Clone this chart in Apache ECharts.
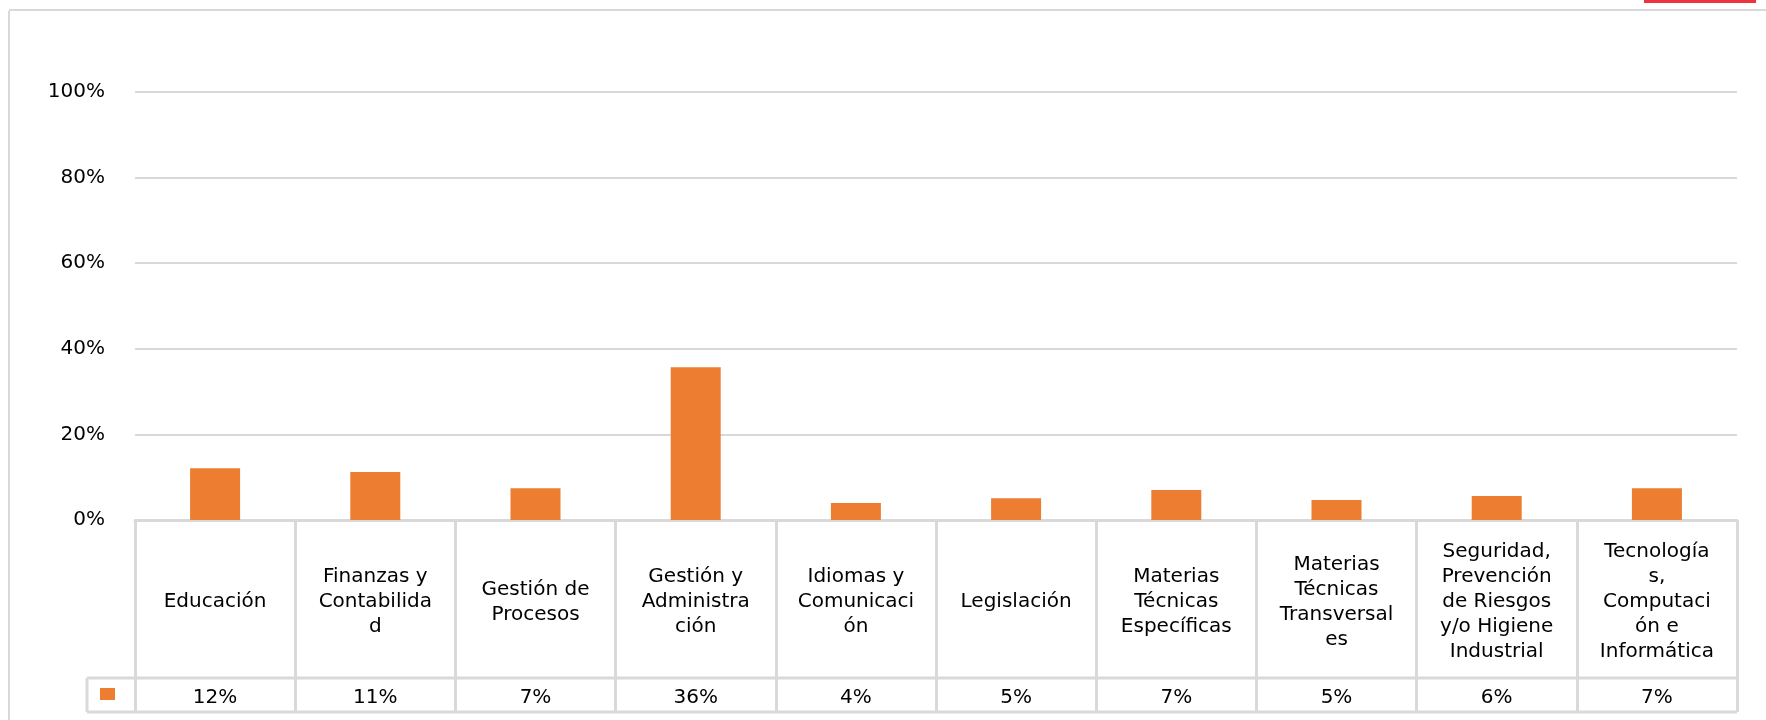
<!DOCTYPE html>
<html>
<head>
<meta charset="utf-8">
<script src="https://cdn.jsdelivr.net/npm/echarts@6/dist/echarts.min.js"></script>
<style>
  html, body { margin: 0; padding: 0; background: #fff; }
  #chart { width: 1766px; height: 720px; }
</style>
</head>
<body>
<div id="chart"></div>
<script>
// Categories (line breaks as they appear in the data table cells)
var categories = [
  'Educación',
  'Finanzas y\nContabilida\nd',
  'Gestión de\nProcesos',
  'Gestión y\nAdministra\nción',
  'Idiomas y\nComunicaci\nón',
  'Legislación',
  'Materias\nTécnicas\nEspecíficas',
  'Materias\nTécnicas\nTransversal\nes',
  'Seguridad,\nPrevención\nde Riesgos\ny/o Higiene\nIndustrial',
  'Tecnología\ns,\nComputaci\nón e\nInformática'
];
// Percent values
var values = [12.1, 11.2, 7.4, 35.7, 4.0, 5.1, 7.0, 4.7, 5.6, 7.4];
// Y-axis ticks
var yTicks = [0, 20, 40, 60, 80, 100];

var tableLabels = values.map(function (v) { return Math.round(v) + '%'; });

// layout constants
var W = 1766, H = 720;
var gridLeft = 135, gridRight = 1737, gridTop = 92, axisY = 520;
var rowDivY = 678, tableBottom = 712, keyLeft = 87;
var lineColor = '#d9d9d9';
var font = 'DejaVu Sans';
var barColor = '#ED7D31';
var fs = 20;

var chart = echarts.init(document.getElementById('chart'), null, { renderer: 'canvas' });

var option = {
  backgroundColor: '#ffffff',
  animation: false,
  textStyle: { fontFamily: font },
  grid: {
    left: gridLeft,
    right: W - gridRight,
    top: gridTop,
    bottom: H - axisY,
    containLabel: false
  },
  legend: {
    show: true,
    left: 100,
    top: 688,
    icon: 'rect',
    itemWidth: 15,
    itemHeight: 12,
    padding: 0,
    formatter: function () { return ''; },
    selectedMode: false,
    data: ['Porcentaje']
  },
  xAxis: [
    {
      type: 'category',
      data: categories,
      position: 'bottom',
      boundaryGap: true,
      axisLine: { show: true, lineStyle: { color: lineColor, width: 3 } },
      axisTick: {
        show: true,
        inside: false,
        length: tableBottom - axisY,
        lineStyle: { color: lineColor, width: 3 }
      },
      axisLabel: {
        interval: 0,
        margin: 82,
        verticalAlign: 'middle',
        align: 'center',
        color: '#000',
        fontFamily: font,
        fontSize: fs,
        lineHeight: 25
      },
      splitLine: { show: false }
    },
    {
      type: 'category',
      data: tableLabels,
      position: 'bottom',
      boundaryGap: true,
      axisLine: { show: false },
      axisTick: { show: false },
      axisLabel: {
        interval: 0,
        margin: 178,
        verticalAlign: 'middle',
        align: 'center',
        color: '#000',
        fontFamily: font,
        fontSize: fs
      },
      splitLine: { show: false }
    }
  ],
  yAxis: {
    type: 'value',
    min: 0,
    max: 100,
    interval: 20,
    axisLine: { show: false },
    axisTick: { show: false },
    axisLabel: {
      margin: 30,
      color: '#000',
      fontFamily: font,
      fontSize: fs,
      formatter: function (v) { return yTicks.indexOf(v) >= 0 ? v + '%' : ''; }
    },
    splitLine: { show: true, lineStyle: { color: lineColor, width: 2 } }
  },
  series: [
    {
      name: 'Porcentaje',
      type: 'bar',
      xAxisIndex: 0,
      data: values,
      barWidth: 50,
      itemStyle: { color: barColor },
      z: 3
    }
  ],
  graphic: [
    // outer chart frame (left and top edges)
    { type: 'line', shape: { x1: 9, y1: 11, x2: 9, y2: H }, style: { stroke: lineColor, lineWidth: 2 }, silent: true },
    { type: 'line', shape: { x1: 9, y1: 10, x2: W, y2: 10 }, style: { stroke: lineColor, lineWidth: 2 }, silent: true },
    // red accent at top right
    { type: 'rect', shape: { x: 1644, y: 0, width: 112, height: 3 }, style: { fill: '#EE3340' }, silent: true },
    // data table: row divider, bottom edge, key cell left edge
    { type: 'line', shape: { x1: keyLeft, y1: rowDivY, x2: gridRight, y2: rowDivY }, style: { stroke: lineColor, lineWidth: 3 }, silent: true },
    { type: 'line', shape: { x1: keyLeft, y1: tableBottom, x2: gridRight, y2: tableBottom }, style: { stroke: lineColor, lineWidth: 3 }, silent: true },
    { type: 'line', shape: { x1: keyLeft, y1: rowDivY, x2: keyLeft, y2: tableBottom }, style: { stroke: lineColor, lineWidth: 3 }, silent: true }
  ]
};

chart.setOption(option);
</script>
</body>
</html>
